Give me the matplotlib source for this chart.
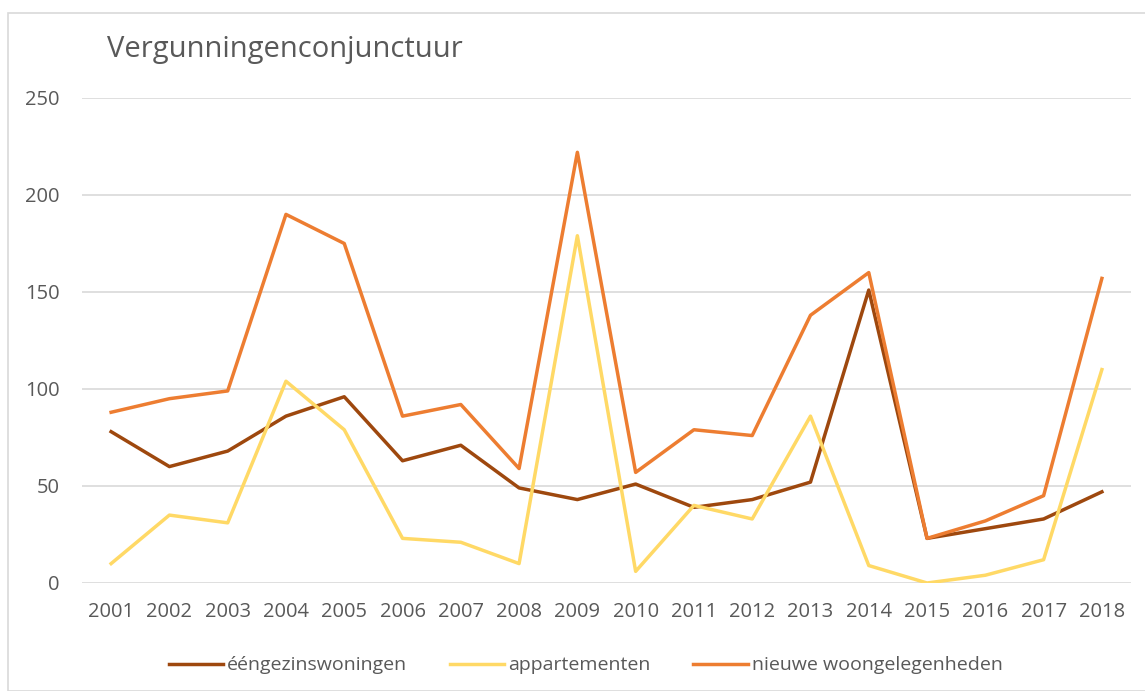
import matplotlib.pyplot as plt
from matplotlib.patches import Rectangle

# data
years = [str(y) for y in range(2001, 2019)]
eengezins = [78, 60, 68, 86, 96, 63, 71, 49, 43, 51, 39, 43, 52, 151, 23, 28, 33, 47]
appartementen = [10, 35, 31, 104, 79, 23, 21, 10, 179, 6, 40, 33, 86, 9, 0, 4, 12, 110]
nieuwe = [88, 95, 99, 190, 175, 86, 92, 59, 222, 57, 79, 76, 138, 160, 23, 32, 45, 157]
yticks = [0, 50, 100, 150, 200, 250]

TXT = "#595959"
plt.rcParams["font.family"] = ["Open Sans", "DejaVu Sans"]

fig = plt.figure(figsize=(11.45, 6.91), dpi=100)
ax = fig.add_axes([0.0716, 0.1563, 0.9162, 0.7019])

# chart frame
fig.patches.append(Rectangle((8 / 1145, 0.0), 1.1, 1 - 13 / 691,
                             transform=fig.transFigure, fill=False,
                             edgecolor="#d9d9d9", linewidth=1.2))

x = range(len(years))
ax.plot(x, eengezins, color="#9E480E", lw=2.5, label="ééngezinswoningen", zorder=3)
ax.plot(x, appartementen, color="#FFD966", lw=2.5, label="appartementen", zorder=3)
ax.plot(x, nieuwe, color="#ED7D31", lw=2.5, label="nieuwe woongelegenheden", zorder=3)

ax.set_xlim(-0.5, len(years) - 0.5)
ax.set_ylim(0, 250)
ax.set_xticks(list(x))
ax.set_xticklabels(years)
ax.set_yticks(yticks)
ax.tick_params(length=0, labelsize=14.5, colors=TXT)
ax.tick_params(axis="x", pad=14)
ax.tick_params(axis="y", pad=16)
ax.grid(axis="y", color="#d9d9d9", linewidth=1.2)
ax.set_axisbelow(True)
for s in ax.spines.values():
    s.set_visible(False)

fig.text(107 / 1145, 1 - 50 / 691, "Vergunningenconjunctuur", fontsize=21,
         color=TXT, va="center", ha="left")

ax.legend(loc="center", bbox_to_anchor=(0.48, -0.17), ncol=3, frameon=False,
          fontsize=14, labelcolor=TXT, handlelength=2.8, handletextpad=0.2,
          columnspacing=2.2)

fig.savefig("out.png", dpi=100)
